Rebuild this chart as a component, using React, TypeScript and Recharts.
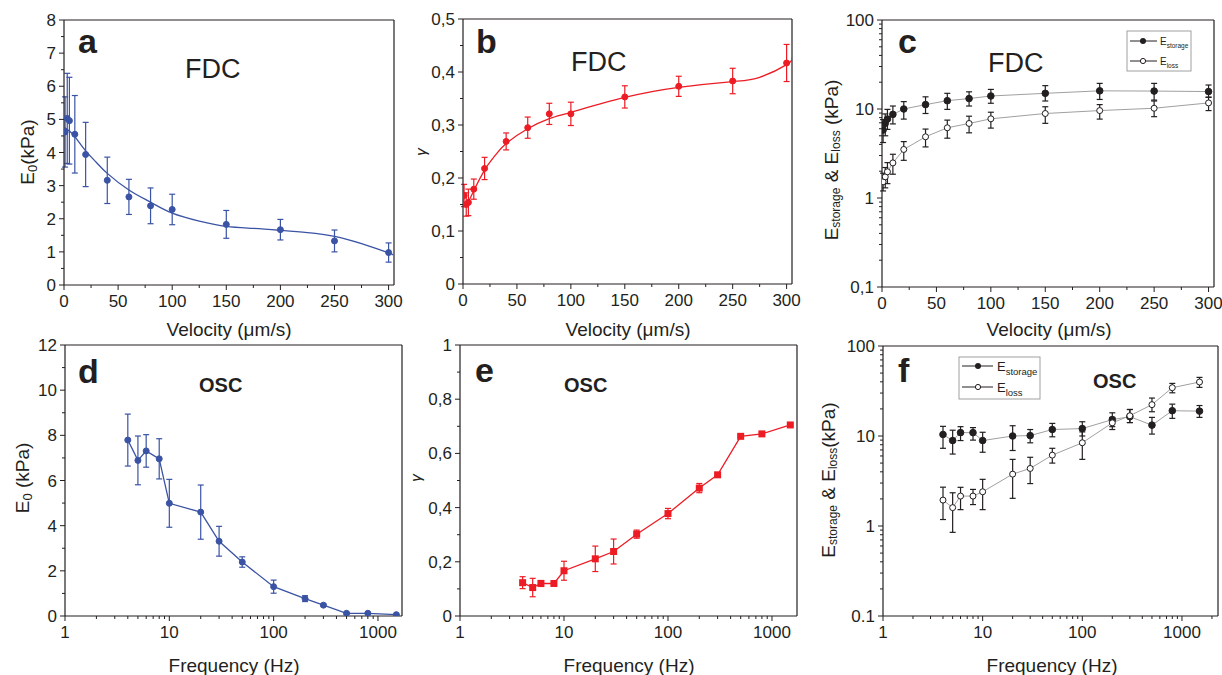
import React from 'react';
import { ComposedChart, Line, XAxis, YAxis, ErrorBar, ReferenceLine } from 'recharts';

const W = 1222;
const H = 675;
const FONT = '"Liberation Sans", Arial, Helvetica, sans-serif';
const INK = '#231f20';
const BLUE = '#3a53a4';
const RED = '#ed1c24';
const GREY = '#a0a0a0';

// ---- a : FDC, E0 vs velocity
const aVel = [1, 3, 5, 10, 20, 40, 60, 80, 100, 150, 200, 250, 300];
const aE0 = [4.62, 5.03, 4.96, 4.55, 3.94, 3.16, 2.66, 2.39, 2.28, 1.83, 1.67, 1.33, 0.98];
const aErr = [1.06, 1.36, 1.31, 1.17, 0.97, 0.7, 0.53, 0.54, 0.46, 0.42, 0.31, 0.33, 0.29];
const aFitVel = [1, 5, 10, 20, 30, 40, 60, 80, 100, 125, 150, 175, 200, 225, 250, 275, 300, 303];
const aFitE0 = [4.75, 4.65, 4.48, 4.05, 3.7, 3.37, 2.87, 2.5, 2.17, 1.93, 1.77, 1.71, 1.65, 1.58, 1.47, 1.25, 0.97, 0.92];

// ---- b : FDC, gamma vs velocity
const bVel = [1, 3, 5, 10, 20, 40, 60, 80, 100, 150, 200, 250, 300];
const bGamma = [0.167, 0.15, 0.154, 0.179, 0.218, 0.269, 0.295, 0.321, 0.321, 0.353, 0.373, 0.383, 0.417];
const bErr = [0.021, 0.022, 0.025, 0.019, 0.021, 0.016, 0.02, 0.02, 0.022, 0.021, 0.019, 0.024, 0.035];
const bFitVel = [4, 10, 20, 30, 40, 60, 80, 100, 150, 200, 250, 275, 300, 305];
const bFitGamma = [0.151, 0.176, 0.215, 0.243, 0.265, 0.293, 0.312, 0.324, 0.352, 0.371, 0.382, 0.39, 0.414, 0.427];

// ---- c : FDC, storage / loss moduli vs velocity
const cVel = [1, 3, 5, 10, 20, 40, 60, 80, 100, 150, 200, 250, 300];
const cStorage = [5.8, 6.9, 7.7, 8.7, 10.0, 11.2, 12.4, 13.1, 14.0, 15.0, 16.0, 15.9, 15.7];
const cStorageLo = [4.2, 5.0, 5.9, 6.8, 7.7, 8.9, 9.9, 10.8, 11.6, 12.3, 12.8, 12.6, 13.6];
const cStorageHi = [7.6, 8.8, 9.9, 10.8, 12.1, 13.7, 15.0, 15.6, 16.6, 18.3, 19.4, 19.4, 18.6];
const cLoss = [1.52, 1.73, 1.97, 2.48, 3.51, 4.87, 6.15, 6.88, 7.76, 8.9, 9.6, 10.2, 11.7];
const cLossLo = [1.2, 1.3, 1.45, 1.85, 2.65, 3.75, 4.7, 5.4, 6.1, 6.9, 7.7, 8.2, 9.6];
const cLossHi = [1.9, 2.2, 2.5, 3.1, 4.3, 5.95, 7.5, 8.3, 9.2, 10.6, 11.2, 12.3, 13.5];

// ---- d, e, f : OSC vs frequency
const freq = [4, 5, 6, 8, 10, 20, 30, 50, 100, 200, 300, 500, 800, 1500];
const dE0 = [7.79, 6.89, 7.31, 6.96, 4.99, 4.6, 3.31, 2.39, 1.3, 0.77, 0.48, 0.12, 0.12, 0.06];
const dErr = [1.15, 1.08, 0.72, 0.89, 1.06, 1.2, 0.66, 0.23, 0.29, 0.13, 0.05, 0.03, 0.03, 0.02];
const eGamma = [0.123, 0.105, 0.12, 0.12, 0.167, 0.211, 0.238, 0.302, 0.378, 0.472, 0.521, 0.663, 0.672, 0.705];
const eErr = [0.022, 0.034, 0.011, 0.006, 0.035, 0.047, 0.046, 0.015, 0.019, 0.017, 0.005, 0.004, 0.004, 0.004];
const fStorage = [10.4, 8.9, 10.9, 10.9, 8.9, 10.0, 10.1, 11.8, 12.1, 15.2, 16.4, 13.2, 19.1, 18.9];
const fStorageLo = [7.3, 6.3, 8.9, 9.0, 6.6, 6.9, 8.4, 9.8, 10.0, 12.7, 14.1, 10.5, 15.7, 16.1];
const fStorageHi = [12.8, 11.6, 12.7, 12.4, 11.0, 13.0, 11.8, 13.8, 14.4, 18.1, 19.7, 16.1, 22.6, 21.8];
const fLoss = [1.94, 1.6, 2.15, 2.15, 2.4, 3.77, 4.36, 6.13, 8.41, 14.0, 16.8, 22.3, 34.4, 39.8];
const fLossLo = [1.18, 0.85, 1.52, 1.73, 1.52, 2.03, 2.96, 5.0, 5.5, 11.8, 14.1, 18.6, 30.2, 34.7];
const fLossHi = [2.7, 2.34, 2.69, 2.55, 3.3, 5.5, 5.8, 7.3, 11.1, 16.1, 19.7, 26.4, 38.4, 44.8];

// ---- axis ticks
const velMajor = [0, 50, 100, 150, 200, 250, 300];
const velMinor = [25, 75, 125, 175, 225, 275];
const freqMajor = [1, 10, 100, 1000];
const logMajor = [0.1, 1, 10, 100];
const aYMajor = [0, 1, 2, 3, 4, 5, 6, 7, 8];
const aYMinor = [0.5, 1.5, 2.5, 3.5, 4.5, 5.5, 6.5, 7.5];
const bYMajor = [0, 0.1, 0.2, 0.3, 0.4, 0.5];
const bYMinor = [0.05, 0.15, 0.25, 0.35, 0.45];
const dYMajor = [0, 2, 4, 6, 8, 10, 12];
const dYMinor = [1, 3, 5, 7, 9, 11];
const eYMajor = [0, 0.2, 0.4, 0.6, 0.8, 1];
const eYMinor = [0.1, 0.3, 0.5, 0.7, 0.9];

const logMinors = (lo: number, hi: number) => {
  const out: number[] = [];
  for (let d = lo; d < hi; d *= 10) for (let k = 2; k <= 9; k++) out.push(+(d * k).toPrecision(3));
  return out;
};

const rows = (xs: number[], ys: number[], err?: number[]) =>
  xs.map((x, i) => ({ x, y: ys[i], err: err ? err[i] : 0 }));
const rowsLoHi = (xs: number[], ys: number[], lo: number[], hi: number[]) =>
  xs.map((x, i) => ({ x, y: ys[i], err: [ys[i] - lo[i], hi[i] - ys[i]] }));

const comma = (v: number) => String(v).replace('.', ',');
const plain = (v: number) => String(v);

type AxisCfg = {
  domain: [number, number];
  log?: boolean;
  major: number[];
  minor: number[];
  fmt: (v: number) => string;
};

const isMajor = (v: number, major: number[]) => major.some((m) => Math.abs(m - v) < 1e-9);
const TICK_FS = 17;

// tick marks + labels drawn from the axis position handed in by recharts
const xTick = (cfg: AxisCfg) => (p: any) => {
  const v = p.payload.value;
  const maj = isMajor(v, cfg.major);
  return (
    <g>
      <line x1={p.x} x2={p.x} y1={p.y} y2={p.y + (maj ? 5 : 3)} stroke={INK} strokeWidth={1} />
      {maj && (
        <text x={p.x} y={p.y + 22} textAnchor="middle" fontSize={TICK_FS} fontFamily={FONT} fill={INK}>
          {cfg.fmt(v)}
        </text>
      )}
    </g>
  );
};

const yTick = (cfg: AxisCfg) => (p: any) => {
  const v = p.payload.value;
  const maj = isMajor(v, cfg.major);
  return (
    <g>
      <line x1={p.x - (maj ? 5 : 3)} x2={p.x} y1={p.y} y2={p.y} stroke={INK} strokeWidth={1} />
      {maj && (
        <text x={p.x - 8} y={p.y + 6} textAnchor="end" fontSize={TICK_FS} fontFamily={FONT} fill={INK}>
          {cfg.fmt(v)}
        </text>
      )}
    </g>
  );
};

const circleDot = (fill: string, stroke: string, r: number) => (p: any) =>
  <circle key={`c${p.index}`} cx={p.cx} cy={p.cy} r={r} fill={fill} stroke={stroke} strokeWidth={1} />;
const squareDot = (fill: string) => (p: any) =>
  <rect key={`s${p.index}`} x={p.cx - 3.5} y={p.cy - 3.5} width={7} height={7} fill={fill} />;

type Plot = { left: number; right: number; top: number; bottom: number };

function Panel({ plot, x, y, children }: { plot: Plot; x: AxisCfg; y: AxisCfg; children: React.ReactNode }) {
  const xt = [...x.major, ...x.minor].filter((v) => v >= x.domain[0] && v <= x.domain[1]).sort((p, q) => p - q);
  const yt = [...y.major, ...y.minor].filter((v) => v >= y.domain[0] && v <= y.domain[1]).sort((p, q) => p - q);
  return (
    <div style={{ position: 'absolute', left: 0, top: 0 }}>
      <ComposedChart
        width={W}
        height={H}
        margin={{ top: plot.top, left: plot.left - 1, right: W - plot.right, bottom: H - plot.bottom - 1 }}
      >
        <XAxis
          type="number"
          dataKey="x"
          scale={x.log ? 'log' : 'linear'}
          domain={x.domain}
          allowDataOverflow
          ticks={xt}
          interval={0}
          height={1}
          tickSize={0}
          tickMargin={0}
          tickLine={false}
          axisLine={{ stroke: INK, strokeWidth: 1.2 }}
          tick={xTick(x)}
        />
        <YAxis
          type="number"
          scale={y.log ? 'log' : 'linear'}
          domain={y.domain}
          allowDataOverflow
          ticks={yt}
          interval={0}
          width={1}
          tickSize={0}
          tickMargin={0}
          tickLine={false}
          axisLine={{ stroke: INK, strokeWidth: 1.2 }}
          tick={yTick(y)}
        />
        <ReferenceLine y={y.domain[1]} stroke={INK} strokeWidth={1.2} ifOverflow="extendDomain" />
        <ReferenceLine x={x.domain[1]} stroke={INK} strokeWidth={1.2} ifOverflow="extendDomain" />
        {children}
      </ComposedChart>
    </div>
  );
}

const txt = { fontFamily: FONT, fill: INK } as const;

const YTitle = ({ cx, cy, children, size = 19 }: { cx: number; cy: number; children: React.ReactNode; size?: number }) => (
  <text
    x={cx}
    y={cy}
    transform={`rotate(-90 ${cx} ${cy})`}
    textAnchor="middle"
    dominantBaseline="central"
    fontSize={size}
    {...txt}
  >
    {children}
  </text>
);

const Tag = ({ x, y, t }: { x: number; y: number; t: string }) => (
  <text x={x} y={y} fontSize={34} fontWeight="bold" {...txt}>
    {t}
  </text>
);

export default function App() {
  const velX: AxisCfg = { domain: [0, 305], major: velMajor, minor: velMinor, fmt: plain };
  const fx = (max: number): AxisCfg => ({ domain: [1, max], log: true, major: freqMajor, minor: logMinors(1, 1000), fmt: plain });

  return (
    <div style={{ position: 'absolute', left: 0, top: 0, width: W, height: H, background: '#fff' }}>
      {/* a */}
      <Panel
        plot={{ left: 64, right: 394, top: 20, bottom: 285 }}
        x={velX}
        y={{ domain: [0, 8], major: aYMajor, minor: aYMinor, fmt: plain }}
      >
        <Line data={rows(aFitVel, aFitE0)} dataKey="y" type="natural" stroke={BLUE} strokeWidth={1.3} dot={false} isAnimationActive={false} />
        <Line data={rows(aVel, aE0, aErr)} dataKey="y" stroke="none" dot={circleDot(BLUE, BLUE, 3)} isAnimationActive={false}>
          <ErrorBar dataKey="err" width={3} stroke={BLUE} strokeWidth={1.2} />
        </Line>
        <Tag x={78} y={53} t="a" />
        <text x={185} y={78} fontSize={27} {...txt}>FDC</text>
        <YTitle cx={27} cy={152}>
          E<tspan fontSize={13} dy={5}>0</tspan><tspan dy={-5}>(kPa)</tspan>
        </YTitle>
        <text x={229} y={336} textAnchor="middle" fontSize={19} {...txt}>Velocity (μm/s)</text>
      </Panel>

      {/* b */}
      <Panel
        plot={{ left: 463, right: 792, top: 19, bottom: 284 }}
        x={velX}
        y={{ domain: [0, 0.5], major: bYMajor, minor: bYMinor, fmt: comma }}
      >
        <Line data={rows(bFitVel, bFitGamma)} dataKey="y" type="natural" stroke={RED} strokeWidth={1.3} dot={false} isAnimationActive={false} />
        <Line data={rows(bVel, bGamma, bErr)} dataKey="y" stroke="none" dot={circleDot(RED, RED, 3)} isAnimationActive={false}>
          <ErrorBar dataKey="err" width={3} stroke={RED} strokeWidth={1.2} />
        </Line>
        <Tag x={476} y={53} t="b" />
        <text x={571} y={71} fontSize={27} {...txt}>FDC</text>
        <YTitle cx={420} cy={152} size={15}>
          <tspan fontStyle="italic">γ</tspan>
        </YTitle>
        <text x={628} y={336} textAnchor="middle" fontSize={19} {...txt}>Velocity (μm/s)</text>
      </Panel>

      {/* c */}
      <Panel
        plot={{ left: 882, right: 1214, top: 20, bottom: 287 }}
        x={velX}
        y={{ domain: [0.1, 100], log: true, major: logMajor, minor: logMinors(0.1, 100), fmt: comma }}
      >
        <Line data={rowsLoHi(cVel, cStorage, cStorageLo, cStorageHi)} dataKey="y" stroke={GREY} strokeWidth={1} dot={circleDot(INK, INK, 3.3)} isAnimationActive={false}>
          <ErrorBar dataKey="err" width={3} stroke={INK} strokeWidth={1.2} />
        </Line>
        <Line data={rowsLoHi(cVel, cLoss, cLossLo, cLossHi)} dataKey="y" stroke={GREY} strokeWidth={1} dot={circleDot('#fff', INK, 3)} isAnimationActive={false}>
          <ErrorBar dataKey="err" width={3} stroke={INK} strokeWidth={1.2} />
        </Line>
        <Tag x={898} y={53} t="c" />
        <text x={988} y={72} fontSize={27} {...txt}>FDC</text>
        <YTitle cx={831} cy={160}>
          E<tspan fontSize={12} dy={5}>storage</tspan><tspan dy={-5}> &amp; E</tspan>
          <tspan fontSize={12} dy={5}>loss</tspan><tspan dy={-5}> (kPa)</tspan>
        </YTitle>
        <text x={1049} y={336} textAnchor="middle" fontSize={19} {...txt}>Velocity (μm/s)</text>
        {/* legend */}
        <rect x={1127} y={31} width={64} height={40} fill="#fff" stroke={GREY} strokeWidth={1} />
        <line x1={1130} x2={1157} y1={41} y2={41} stroke={INK} strokeWidth={1} />
        <circle cx={1143} cy={41} r={3} fill={INK} />
        <text x={1160} y={45} fontSize={10} {...txt}>E<tspan fontSize={6.5} dy={3}>storage</tspan></text>
        <line x1={1130} x2={1157} y1={61} y2={61} stroke={INK} strokeWidth={1} />
        <circle cx={1143} cy={61} r={2.6} fill="#fff" stroke={INK} strokeWidth={1} />
        <text x={1160} y={65} fontSize={10} {...txt}>E<tspan fontSize={6.5} dy={3}>loss</tspan></text>
      </Panel>

      {/* d */}
      <Panel
        plot={{ left: 65, right: 402, top: 345, bottom: 616 }}
        x={fx(1700)}
        y={{ domain: [0, 12], major: dYMajor, minor: dYMinor, fmt: plain }}
      >
        <Line data={rows(freq, dE0, dErr)} dataKey="y" stroke={BLUE} strokeWidth={1.3} dot={circleDot(BLUE, BLUE, 3)} isAnimationActive={false}>
          <ErrorBar dataKey="err" width={3} stroke={BLUE} strokeWidth={1.2} />
        </Line>
        <Tag x={78} y={383} t="d" />
        <text x={199} y={392} fontSize={20} fontWeight="bold" {...txt}>OSC</text>
        <YTitle cx={22} cy={478}>
          E<tspan fontSize={13} dy={5}>0</tspan><tspan dy={-5}> (kPa)</tspan>
        </YTitle>
        <text x={234} y={672} textAnchor="middle" fontSize={19} {...txt}>Frequency (Hz)</text>
      </Panel>

      {/* e */}
      <Panel
        plot={{ left: 460, right: 797, top: 345, bottom: 616 }}
        x={fx(1740)}
        y={{ domain: [0, 1], major: eYMajor, minor: eYMinor, fmt: comma }}
      >
        <Line data={rows(freq, eGamma, eErr)} dataKey="y" stroke={RED} strokeWidth={1.3} dot={squareDot(RED)} isAnimationActive={false}>
          <ErrorBar dataKey="err" width={3} stroke={RED} strokeWidth={1.2} />
        </Line>
        <Tag x={475} y={382} t="e" />
        <text x={564} y={392} fontSize={20} fontWeight="bold" {...txt}>OSC</text>
        <YTitle cx={415} cy={478} size={15}>
          <tspan fontStyle="italic">γ</tspan>
        </YTitle>
        <text x={629} y={672} textAnchor="middle" fontSize={19} {...txt}>Frequency (Hz)</text>
      </Panel>

      {/* f */}
      <Panel
        plot={{ left: 883, right: 1218, top: 346, bottom: 616 }}
        x={{ ...fx(2300), minor: logMinors(1, 10000) }}
        y={{ domain: [0.1, 100], log: true, major: logMajor, minor: logMinors(0.1, 100), fmt: plain }}
      >
        <Line data={rowsLoHi(freq, fStorage, fStorageLo, fStorageHi)} dataKey="y" stroke={GREY} strokeWidth={1} dot={circleDot(INK, INK, 3.3)} isAnimationActive={false}>
          <ErrorBar dataKey="err" width={3} stroke={INK} strokeWidth={1.2} />
        </Line>
        <Line data={rowsLoHi(freq, fLoss, fLossLo, fLossHi)} dataKey="y" stroke={GREY} strokeWidth={1} dot={circleDot('#fff', INK, 3)} isAnimationActive={false}>
          <ErrorBar dataKey="err" width={3} stroke={INK} strokeWidth={1.2} />
        </Line>
        <Tag x={898} y={382} t="f" />
        <text x={1093} y={388} fontSize={20} fontWeight="bold" {...txt}>OSC</text>
        <YTitle cx={828} cy={480}>
          E<tspan fontSize={12} dy={5}>storage</tspan><tspan dy={-5}> &amp; E</tspan>
          <tspan fontSize={12} dy={5}>loss</tspan><tspan dy={-5}>(kPa)</tspan>
        </YTitle>
        <text x={1052} y={672} textAnchor="middle" fontSize={19} {...txt}>Frequency (Hz)</text>
        {/* legend */}
        <rect x={959} y={357} width={81} height={42} fill="#fff" stroke={GREY} strokeWidth={1} />
        <line x1={962} x2={993} y1={366} y2={366} stroke={INK} strokeWidth={1} />
        <circle cx={978} cy={366} r={3} fill={INK} />
        <text x={997} y={371} fontSize={13} {...txt}>E<tspan fontSize={9.5} dy={4}>storage</tspan></text>
        <line x1={962} x2={993} y1={387} y2={387} stroke={INK} strokeWidth={1} />
        <circle cx={978} cy={387} r={2.6} fill="#fff" stroke={INK} strokeWidth={1} />
        <text x={997} y={392} fontSize={13} {...txt}>E<tspan fontSize={9.5} dy={4}>loss</tspan></text>
      </Panel>
    </div>
  );
}
